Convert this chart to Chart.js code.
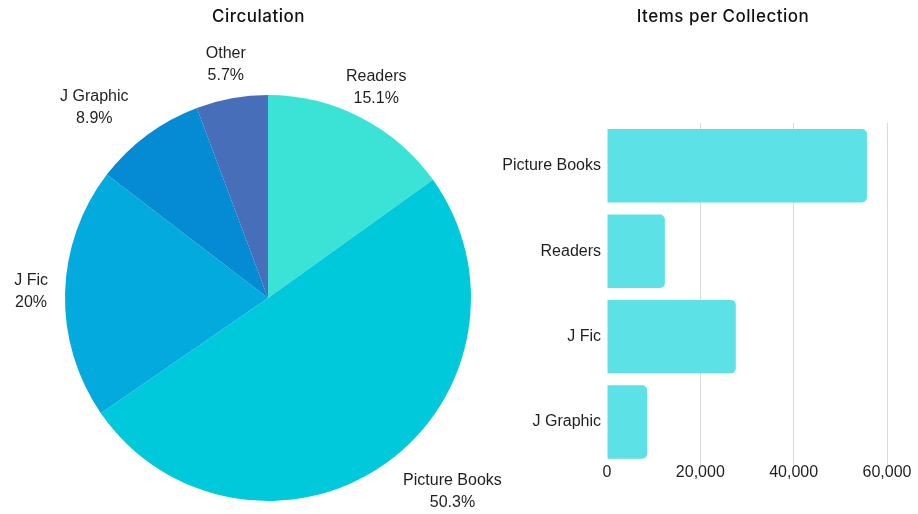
<!DOCTYPE html>
<html>
<head>
<meta charset="utf-8">
<script src="https://cdn.jsdelivr.net/npm/chart.js@4"></script>
<style>
  html, body { margin: 0; padding: 0; background: #fff; }
  #wrap { position: relative; width: 918px; height: 514px; overflow: hidden; }
  .ttl { position: absolute; top: 5px; font: 500 17px Inter, sans-serif; letter-spacing: 0.5px; line-height: 22px; color: #111; transform: translateX(-50%); white-space: nowrap; }
  #pieChart { position: absolute; left: 0; top: 0; }
  #barChart { position: absolute; left: 480px; top: 0; }
</style>
</head>
<body>
<div id="wrap">
  <canvas id="pieChart" width="536" height="514"></canvas>
  <canvas id="barChart" width="438" height="514"></canvas>
  <div class="ttl" style="left:258.5px">Circulation</div>
  <div class="ttl" style="left:723px">Items per Collection</div>
</div>
<script>
// circulation share by collection (%)
const circLabels = ["Readers", "Picture Books", "J Fic", "J Graphic", "Other"];
const circShares = [15.1, 50.3, 20, 8.9, 5.7];
const circColors = ["#3ae3d5", "#00c9db", "#02aadd", "#048bd4", "#466eb9"];

// items held per collection
const itemLabels = ["Picture Books", "Readers", "J Fic", "J Graphic"];
const itemCounts = [55700, 12400, 27600, 8600];
const itemTicks = [0, 20000, 40000, 60000];

const labelFont = { family: "'Liberation Sans', Arial, sans-serif", size: 16 };
const textColor = "#1f1f1f";

// two-line labels outside each slice, nudged sideways when they would touch the pie
const sliceLabels = {
  id: "sliceLabels",
  afterDatasetsDraw(chart) {
    const ctx = chart.ctx;
    const meta = chart.getDatasetMeta(0);
    ctx.save();
    ctx.font = "16px 'Liberation Sans', Arial, sans-serif";
    ctx.fillStyle = textColor;
    ctx.textAlign = "center";
    ctx.textBaseline = "middle";
    meta.data.forEach((arc, i) => {
      const { x, y, startAngle, endAngle, outerRadius } =
        arc.getProps(["x", "y", "startAngle", "endAngle", "outerRadius"], true);
      const mid = (startAngle + endAngle) / 2;
      const lines = [circLabels[i], circShares[i] + "%"];
      const w = Math.max(...lines.map(t => ctx.measureText(t).width));
      const h = 38;
      const sx = Math.sign(Math.cos(mid)), sy = Math.sign(Math.sin(mid));
      let cx = x + Math.cos(mid) * (outerRadius + 34);
      const cy = y + Math.sin(mid) * (outerRadius + 34);
      const nx = cx - sx * w / 2 - x;
      const ny = cy - sy * h / 2 - y;
      if (Math.hypot(nx, ny) < outerRadius + 2) {
        const need = Math.sqrt(Math.max((outerRadius + 18) ** 2 - ny * ny, 0));
        cx += sx * (need - Math.abs(nx));
      }
      ctx.fillText(lines[0], cx, cy - 11);
      ctx.fillText(lines[1], cx, cy + 11);
    });
    ctx.restore();
  }
};

new Chart(document.getElementById("pieChart"), {
  type: "pie",
  data: {
    labels: circLabels,
    datasets: [{
      data: circShares,
      backgroundColor: circColors,
      borderWidth: 0,
      hoverOffset: 0
    }]
  },
  options: {
    responsive: false,
    animation: false,
    layout: { padding: { top: 95, bottom: 13 } },
    plugins: { legend: { display: false }, tooltip: { enabled: false } }
  },
  plugins: [sliceLabels]
});

new Chart(document.getElementById("barChart"), {
  type: "bar",
  data: {
    labels: itemLabels,
    datasets: [{
      data: itemCounts,
      backgroundColor: "#5ce1e6",
      borderRadius: 5,
      borderSkipped: "start",
      barPercentage: 0.86,
      categoryPercentage: 1
    }]
  },
  options: {
    indexAxis: "y",
    responsive: false,
    animation: false,
    layout: { padding: { top: 123, right: 31, bottom: 34, left: 0 } },
    plugins: { legend: { display: false }, tooltip: { enabled: false } },
    scales: {
      x: {
        min: itemTicks[0],
        max: itemTicks[itemTicks.length - 1],
        afterBuildTicks(scale) { scale.ticks = itemTicks.map(v => ({ value: v })); },
        ticks: { font: labelFont, color: textColor, padding: -2, maxRotation: 0 },
        grid: {
          color: c => (c.tick && c.tick.value === 0 ? "rgba(0,0,0,0)" : "#d9d9d9"),
          drawTicks: false
        },
        border: { display: false }
      },
      y: {
        ticks: { font: labelFont, color: textColor, padding: 6 },
        grid: { display: false, drawTicks: false },
        border: { display: false },
        afterFit(scale) { scale.width = 127; }
      }
    }
  }
});
</script>
</body>
</html>
